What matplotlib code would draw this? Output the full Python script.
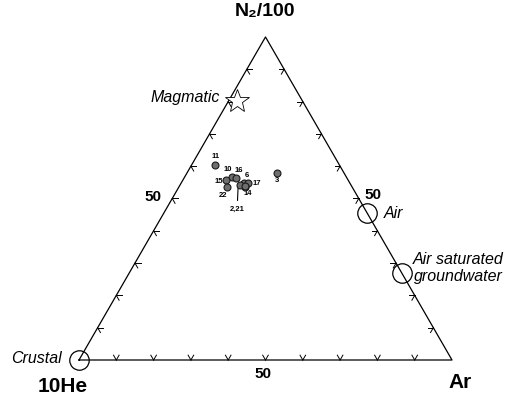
import numpy as np
import matplotlib.pyplot as plt

plt.rcParams['font.family'] = ['Liberation Sans', 'DejaVu Sans']

# muestras (%): N2/100, 10He, Ar
ids = ['11', '10', '15', '22', '16', '6', '17', '14', '2', '21', '3']
n2 = [60.5, 56.8, 55.6, 53.7, 56.2, 54.9, 54.8, 53.6, 54.3, 54.0, 58.0]
he = [33.2, 30.7, 32.7, 33.4, 29.7, 28.4, 27.3, 28.7, 29.8, 28.4, 18.0]
ar = [6.3, 12.5, 11.7, 12.9, 14.1, 16.7, 17.9, 17.7, 15.9, 17.6, 24.0]

# miembros extremos
ref_names = ['Crustal', 'Air', 'Air saturated\ngroundwater']
ref_n2 = [0.0, 45.5, 27.0]
ref_he = [100.0, 0.0, 0.0]
ref_ar = [0.0, 54.5, 73.0]
mag_n2, mag_he, mag_ar = 80.2, 17.5, 2.3

H = np.sqrt(3) / 2


def tern(n, h, a):
    n = np.asarray(n, float); h = np.asarray(h, float); a = np.asarray(a, float)
    s = n + h + a
    return a / s + 0.5 * n / s, H * n / s


# figura 515x398, 1 unidad = 373 px
fig = plt.figure(figsize=(5.15, 3.98), dpi=100)
ax = fig.add_axes([0, 0, 1, 1])
ax.set_xlim(-79 / 373, (515 - 79) / 373)
ax.set_ylim(-38 / 373, 360 / 373)
ax.axis('off')

# triangulo
ax.plot([0, 1, 0.5, 0], [0, 0, H, 0], color='k', lw=0.9, zorder=2)

# marcas tipo chevron
L = 0.015
for i in range(1, 10):
    f = i / 10.
    for (px, py), angs in [((f, 0), (60, 120)),
                           ((0.5 * f, H * f), (0, -60)),
                           ((1 - 0.5 * f, H * f), (180, 240))]:
        for g in angs:
            r = np.radians(g)
            ax.plot([px, px + L * np.cos(r)], [py, py + L * np.sin(r)],
                    color='k', lw=0.7, zorder=2)

# etiquetas de vertices
ax.text(0.5, 0.933, 'N₂/100', ha='center', va='center', fontsize=14, fontweight='bold')
ax.text(-0.045, -0.07, '10He', ha='center', va='center', fontsize=15, fontweight='bold')
ax.text(1.022, -0.06, 'Ar', ha='center', va='center', fontsize=15, fontweight='bold')
ax.text(0.198, 0.437, '50', ha='center', va='center', fontsize=11, fontweight='bold')
ax.text(0.788, 0.442, '50', ha='center', va='center', fontsize=11, fontweight='bold')
ax.text(0.493, -0.038, '50', ha='center', va='center', fontsize=11, fontweight='bold')

# miembros extremos
rx, ry = tern(ref_n2, ref_he, ref_ar)
ax.plot(rx, ry, 'o', ms=14, mfc='none', mec='k', mew=0.9, zorder=3)
mx, my = tern(mag_n2, mag_he, mag_ar)
ax.plot(mx, my, '*', ms=18, mfc='white', mec='k', mew=0.6, zorder=3)

ax.text(-0.045, 0.005, ref_names[0], ha='right', va='center', fontsize=11.5, style='italic')
ax.text(0.378, 0.705, 'Magmatic', ha='right', va='center', fontsize=11.5, style='italic')
ax.text(0.818, 0.394, ref_names[1], ha='left', va='center', fontsize=11.5, style='italic')
ax.text(1.016, 0.247, ref_names[2], ha='center', va='center', fontsize=11.5,
        style='italic', multialignment='center', linespacing=1.15)

# muestras
sx, sy = tern(n2, he, ar)
ax.plot(sx, sy, 'o', ms=5, mfc='#6e6e6e', mec='#1a1a1a', mew=0.8, ls='none', zorder=4)

offs = {'11': (0, 8), '10': (-4, 7), '15': (-8, -1), '22': (-4, -9), '16': (2, 8),
        '6': (3, 7), '17': (9, -1), '14': (3, -7), '3': (0, -8)}
for k, x, y in zip(ids, sx, sy):
    if k in offs:
        ax.annotate(k, (x, y), xytext=offs[k], textcoords='offset pixels',
                    ha='center', va='center', fontsize=5.5, fontweight='bold')
i2 = ids.index('2')
ax.annotate('2,21', (sx[i2] - 0.004, sy[i2] - 0.008), xytext=(-1, -22), textcoords='offset pixels',
            ha='center', va='center', fontsize=5.5, fontweight='bold',
            arrowprops=dict(arrowstyle='-', color='k', lw=0.8, shrinkA=2, shrinkB=0))

fig.savefig('out.png', dpi=100)
